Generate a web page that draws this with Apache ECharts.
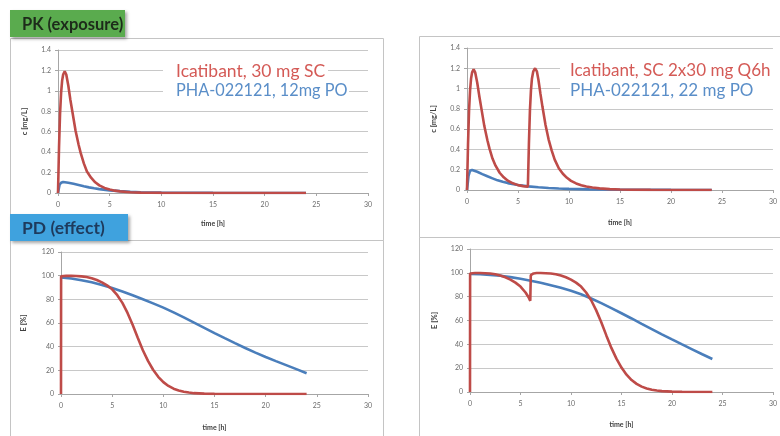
<!DOCTYPE html>
<html>
<head>
<meta charset="utf-8">
<script src="https://cdn.jsdelivr.net/npm/echarts/dist/echarts.min.js"></script>
<style>html,body{margin:0;padding:0;background:#fff;}#c{width:780px;height:436px;}</style>
</head>
<body>
<div id="c"></div>
<script>
// ---- data (time [h], value) ----
const xTicks = [0, 5, 10, 15, 20, 25, 30];
const pkTicks = [0, 0.2, 0.4, 0.6, 0.8, 1, 1.2, 1.4];
const pdTicks = [0, 20, 40, 60, 80, 100, 120];

const legendLeft = ['Icatibant, 30 mg SC', 'PHA-022121, 12mg PO'];
const legendRight = ['Icatibant, SC 2x30 mg Q6h', 'PHA-022121, 22 mg PO'];
const panelTitles = ['PK (exposure)', 'PD (effect)'];

// PK single dose (top-left)
const tlIcatibant = [[0,0],[0.1,0.45],[0.2,0.78],[0.3,0.98],[0.4,1.1],[0.5,1.16],[0.65,1.19],[0.8,1.16],[1.0,1.05],[1.2,0.91],[1.4,0.79],[1.7,0.61],[2.0,0.47],[2.2,0.39],[2.5,0.29],[2.8,0.21],[3.2,0.15],[3.6,0.105],[4.0,0.075],[4.5,0.05],[5.0,0.034],[5.5,0.023],[6,0.016],[7,0.008],[8,0.004],[9,0.002],[10,0.001],[12,0],[24,0]];
const tlPHA = [[0,0],[0.15,0.08],[0.3,0.1],[0.5,0.108],[1,0.1],[1.5,0.09],[2,0.078],[2.5,0.066],[3,0.055],[3.5,0.046],[4,0.038],[5,0.026],[6,0.018],[7,0.012],[8,0.008],[10,0.004],[12,0.002],[15,0.001],[24,0]];

// PK two doses (top-right)
const trIcatibant = [[0,0],[0.1,0.45],[0.2,0.78],[0.3,0.98],[0.4,1.1],[0.5,1.16],[0.65,1.19],[0.8,1.16],[1.0,1.06],[1.2,0.93],[1.4,0.81],[1.7,0.63],[2.0,0.49],[2.2,0.41],[2.5,0.31],[2.8,0.24],[3.2,0.17],[3.6,0.125],[4.0,0.092],[4.5,0.066],[5.0,0.048],[5.5,0.038],[5.97,0.032],[6.07,0.45],[6.17,0.78],[6.27,0.98],[6.37,1.1],[6.5,1.17],[6.68,1.2],[6.85,1.17],[7.0,1.09],[7.2,0.95],[7.4,0.82],[7.7,0.64],[8.0,0.5],[8.3,0.39],[8.6,0.3],[9.0,0.215],[9.4,0.16],[9.8,0.12],[10.2,0.09],[10.7,0.065],[11.2,0.047],[11.7,0.034],[12.3,0.024],[13,0.016],[14,0.009],[15,0.005],[16,0.003],[18,0.001],[20,0],[24,0]];
const trPHA = [[0,0],[0.15,0.14],[0.3,0.19],[0.5,0.198],[1,0.18],[1.5,0.157],[2,0.135],[2.5,0.115],[3,0.095],[3.5,0.081],[4,0.068],[5,0.05],[6,0.036],[7,0.027],[8,0.02],[9,0.015],[10,0.011],[12,0.006],[15,0.003],[20,0.001],[24,0]];

// PD single dose (bottom-left)
const blIcatibant = [[0,0],[0.01,99.5],[0.5,99.8],[1,99.8],[1.5,99.7],[2,99.4],[2.5,98.8],[3,97.8],[3.5,96.3],[4,94.3],[4.5,91.8],[5,88.5],[5.5,83.5],[6,77],[6.5,68.5],[7,58.5],[7.5,47.5],[8,37],[8.5,28],[9,20.5],[9.5,14.5],[10,10],[10.5,6.8],[11,4.5],[11.5,3],[12,1.9],[12.5,1.2],[13,0.7],[14,0.3],[15,0.1],[16,0],[24,0]];
const blPHA = [[0,98.5],[1,97.6],[2,96.2],[3,94.4],[4,92.1],[5,89.5],[6,86.6],[7,83.4],[8,80],[9,76.6],[10,73],[11,69],[12,64.7],[13,60.3],[14,55.9],[15,51.5],[16,47.2],[17,43],[18,38.9],[19,35],[20,31.3],[21,27.8],[22,24.4],[23,21],[24,17.6]];

// PD two doses (bottom-right)
const brIcatibant = [[0,0],[0.01,99.5],[0.5,99.8],[1,99.8],[1.5,99.7],[2,99.4],[2.5,98.8],[3,97.8],[3.5,96.3],[4,94.3],[4.5,91.8],[5,88.5],[5.5,83.5],[5.8,79.5],[5.97,76.5],[6.02,98],[6.3,99.5],[6.6,99.8],[7,99.8],[7.5,99.7],[8,99.4],[8.5,98.8],[9,97.8],[9.5,96.3],[10,94.3],[10.5,91.8],[11,88.5],[11.5,83.5],[12,77],[12.5,68.5],[13,58.5],[13.5,47.5],[14,37],[14.5,28],[15,20.5],[15.5,14.5],[16,10],[16.5,6.8],[17,4.5],[17.5,3],[18,1.9],[18.5,1.2],[19,0.7],[20,0.3],[21,0.1],[22,0],[24,0]];
const brPHA = [[0,99],[1,98.8],[2,98.3],[3,97.5],[4,96.4],[5,95],[6,93.4],[7,91.6],[8,89.6],[9,87.5],[10,85],[11,82],[12,78.5],[13,74.6],[14,70.4],[15,66.1],[16,61.7],[17,57.2],[18,52.8],[19,48.4],[20,44.1],[21,39.9],[22,35.8],[23,31.7],[24,27.7]];

// ---- styling ----
const RED = '#be4b48', BLUE = '#4a7ebb';
const RED_TXT = '#d45a56', BLUE_TXT = '#5a8ec8';
const FONT = 'Lato, "Open Sans", sans-serif';

const grids = [
  {left: 58, top: 50, width: 310, height: 143},
  {left: 467, top: 48, width: 310, height: 142},
  {left: 61, top: 252, width: 307, height: 142},
  {left: 470, top: 249, width: 307, height: 143}
];
const yNames = ['c [mg/L]', 'c [mg/L]', 'E [%]', 'E [%]'];
const yGaps = [29, 29, 33, 31];
const xGaps = [27, 29, 30, 29];

function xAxis(i) {
  return {
    type: 'value', gridIndex: i, min: xTicks[0], max: xTicks[xTicks.length-1], interval: xTicks[1]-xTicks[0],
    name: 'time [h]', nameLocation: 'middle', nameGap: xGaps[i],
    nameTextStyle: {fontSize: 7, fontWeight: 'bold', color: '#404040', fontFamily: FONT},
    axisLine: {show: true, lineStyle: {color: '#a6a6a6', width: 1}},
    axisTick: {show: true, length: 3, lineStyle: {color: '#a6a6a6'}},
    axisLabel: {fontSize: 7, color: '#6b6b6b', margin: 8, fontFamily: FONT},
    splitLine: {show: false}
  };
}
function yAxis(i) {
  const t = i < 2 ? pkTicks : pdTicks;
  return {
    type: 'value', gridIndex: i, min: t[0], max: t[t.length-1], interval: t[1]-t[0],
    name: yNames[i], nameLocation: 'middle', nameGap: yGaps[i], nameRotate: 90,
    nameTextStyle: {fontSize: 7.5, fontWeight: 'bold', color: '#404040', fontFamily: FONT},
    axisLine: {show: true, lineStyle: {color: '#a6a6a6', width: 1}},
    axisTick: {show: true, length: 3, lineStyle: {color: '#a6a6a6'}},
    axisLabel: {fontSize: 7, color: '#6b6b6b', margin: 7, fontFamily: FONT},
    splitLine: {show: true, lineStyle: {color: '#c8c8c8', width: 1}}
  };
}
function line(i, data, color) {
  return {
    type: 'line', xAxisIndex: i, yAxisIndex: i, data: data, showSymbol: false, symbol: 'none',
    lineStyle: {color: color, width: 2.6}, z: 3, animation: false
  };
}

function frame(x, y, w, h) {
  return {type: 'rect', shape: {x: x, y: y, width: w, height: h}, z: 0,
    style: {fill: 'none', stroke: '#c4c4c4', lineWidth: 1}};
}
function whiteBox(x, y, w, h) {
  return {type: 'rect', shape: {x: x, y: y, width: w, height: h}, z: 5, style: {fill: '#fff'}};
}
function legendText(x, y, text, color, size) {
  return {type: 'text', x: x, y: y, z: 6,
    style: {text: text, fill: color, font: size + 'px ' + FONT, textVerticalAlign: 'middle'}};
}
function titleBox(x, y, w, h, color, text, tcolor, size) {
  return [
    {type: 'rect', shape: {x: x, y: y, width: w, height: h}, z: 20,
      style: {fill: color, shadowBlur: 3, shadowOffsetX: 2, shadowOffsetY: 2, shadowColor: 'rgba(0,0,0,0.35)'}},
    {type: 'text', x: x + 12, y: y + h / 2 + 1, z: 21,
      style: {text: text, fill: tcolor, font: 'bold ' + size + 'px ' + FONT, textVerticalAlign: 'middle'}}
  ];
}

const chart = echarts.init(document.getElementById('c'), null, {renderer: 'canvas'});
chart.setOption({
  animation: false,
  backgroundColor: '#fff',
  grid: grids,
  xAxis: [0,1,2,3].map(xAxis),
  yAxis: [0,1,2,3].map(yAxis),
  series: [
    line(0, tlPHA, BLUE), line(0, tlIcatibant, RED),
    line(1, trPHA, BLUE), line(1, trIcatibant, RED),
    line(2, blPHA, BLUE), line(2, blIcatibant, RED),
    line(3, brPHA, BLUE), line(3, brIcatibant, RED)
  ],
  graphic: [
    frame(10.5, 38.5, 373, 202),
    frame(10.5, 240.5, 373, 210),
    frame(419.5, 36.5, 400, 201),
    frame(419.5, 237.5, 400, 210),
    whiteBox(163, 60, 165, 21),
    whiteBox(163, 81, 186, 21),
    legendText(176, 71, legendLeft[0], RED_TXT, 17.5),
    legendText(176, 91, legendLeft[1], BLUE_TXT, 16.3),
    whiteBox(560, 58, 222, 44),
    legendText(570, 71, legendRight[0], RED_TXT, 17),
    legendText(570, 91, legendRight[1], BLUE_TXT, 17)
  ].concat(
    titleBox(10, 10, 115, 27, '#5aab4e', panelTitles[0], '#1d2b1a', 16.5),
    titleBox(10, 214, 118, 27, '#3fa2de', panelTitles[1], '#1e3a5c', 17.5)
  )
});
</script>
</body>
</html>
